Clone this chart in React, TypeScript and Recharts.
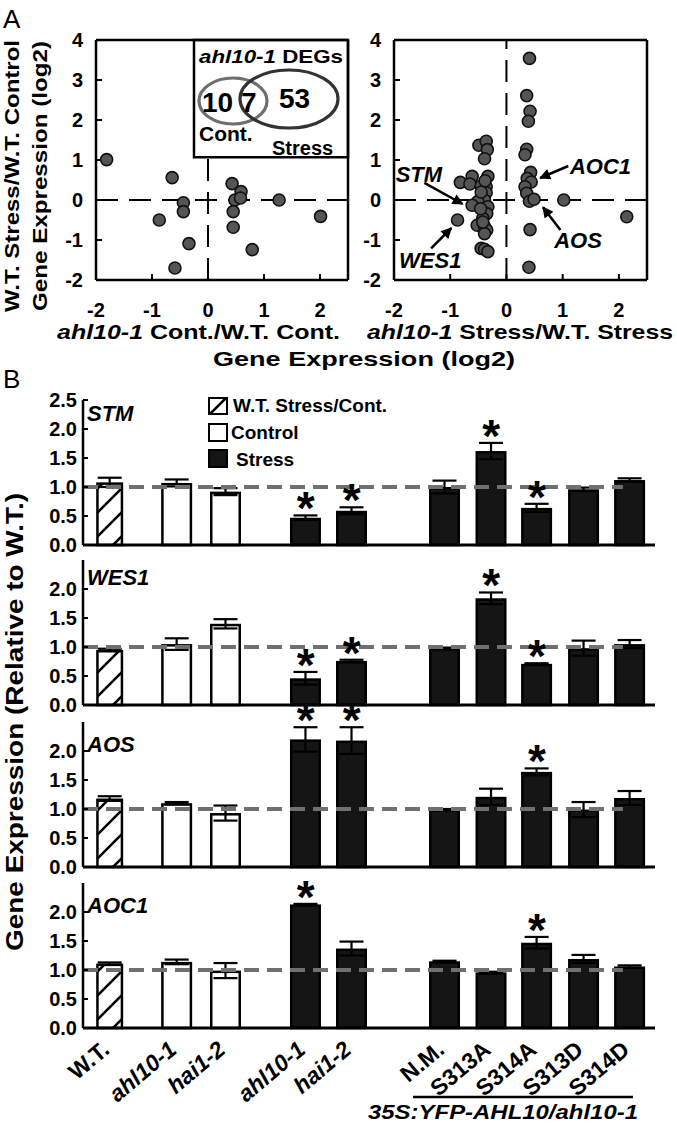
import React from "react";
import {
  ScatterChart,
  Scatter,
  ComposedChart,
  Bar,
  ErrorBar,
  XAxis,
  YAxis,
  ReferenceLine,
  ReferenceArea,
  ReferenceDot,
} from "recharts";

const FONT = "'Liberation Sans', Arial, Helvetica, sans-serif";

// ---- panel A: log2 ratios of the ahl10-1 DEGs ----
const contX = [-1.81, -0.64, -0.44, -0.44, -0.87, -0.34, -0.59, 0.43, 0.59, 0.48, 0.58, 0.45, 0.45, 0.79, 1.27, 2.01];
const contY = [1.01, 0.56, -0.07, -0.29, -0.5, -1.09, -1.7, 0.41, 0.21, 0.0, 0.05, -0.29, -0.68, -1.24, 0.0, -0.41];

const stressX = [
  0.41, 0.36, 0.42, 0.39, 0.36, 0.33, 0.43, 0.37, 0.44, 0.33, 0.36, 0.41, 0.49, 0.42, 0.4, 1.02, 2.14,
  -0.49, -0.36, -0.34, -0.39, -0.33, -0.61, -0.82, -0.65, -0.36, -0.45, -0.36, -0.39, -0.51, -0.61, -0.33,
  -0.35, -0.42, -0.52, -0.39, -0.35, -0.39, -0.87, -0.45, -0.39, -0.33, -0.45, -0.38, -0.46, -0.42,
];
const stressY = [
  3.54, 2.61, 2.22, 1.97, 1.27, 1.13, 0.69, 0.54, 0.45, 0.33, 0.17, -0.03, 0.02, -0.74, -1.68, 0.0, -0.42,
  1.37, 1.47, 1.26, 1.03, 0.59, 0.59, 0.44, 0.4, 0.33, 0.35, 0.18, 0.0, -0.04, -0.13, -0.17,
  -0.34, -0.46, -0.63, -0.67, -0.75, -0.84, -0.5, -1.21, -1.23, -1.29, 0.2, 0.48, -0.22, -0.55,
];

const logTicksX = [-2, -1, 0, 1, 2];
const logTicksY = [-2, -1, 0, 1, 2, 3, 4];
const vennCounts = ["10", "7", "53"];

// ---- panel B: qPCR relative to W.T. ----
const samples = ["W.T.", "ahl10-1", "hai1-2", "ahl10-1", "hai1-2", "N.M.", "S313A", "S314A", "S313D", "S314D"];
const sampleItalic = [false, true, true, true, true, false, false, false, false, false];
const kinds = ["ratio", "control", "control", "stress", "stress", "stress", "stress", "stress", "stress", "stress"];
const xPos = [0, 1.44, 2.49, 4.21, 5.2, 7.2, 8.2, 9.18, 10.19, 11.18];

const genes = ["STM", "WES1", "AOS", "AOC1"];
const stmMean = [1.08, 1.07, 0.92, 0.47, 0.59, 1.0, 1.62, 0.64, 0.96, 1.12];
const stmErr = [0.08, 0.06, 0.06, 0.04, 0.06, 0.11, 0.14, 0.07, 0.03, 0.03];
const stmSig = [0, 0, 0, 1, 1, 0, 1, 1, 0, 0];
const wes1Mean = [0.95, 1.05, 1.4, 0.46, 0.76, 0.98, 1.84, 0.71, 0.98, 1.05];
const wes1Err = [0.02, 0.1, 0.08, 0.11, 0.02, 0.01, 0.1, 0.01, 0.13, 0.07];
const wes1Sig = [0, 0, 0, 1, 1, 0, 1, 1, 0, 0];
const aosMean = [1.18, 1.1, 0.93, 2.2, 2.18, 0.99, 1.21, 1.64, 0.99, 1.19];
const aosErr = [0.04, 0.02, 0.13, 0.21, 0.23, 0.01, 0.14, 0.06, 0.13, 0.12];
const aosSig = [0, 0, 0, 1, 1, 0, 0, 1, 0, 0];
const aoc1Mean = [1.11, 1.14, 0.99, 2.13, 1.37, 1.15, 0.96, 1.47, 1.19, 1.06];
const aoc1Err = [0.02, 0.04, 0.13, 0.01, 0.12, 0.01, 0.01, 0.1, 0.07, 0.02];
const aoc1Sig = [0, 0, 0, 1, 0, 0, 0, 1, 0, 0];

const geneMeans = [stmMean, wes1Mean, aosMean, aoc1Mean];
const geneErrs = [stmErr, wes1Err, aosErr, aoc1Err];
const geneSigs = [stmSig, wes1Sig, aosSig, aoc1Sig];
const fullTicks = [0, 0.5, 1, 1.5, 2, 2.5];
const shortTicks = [0, 0.5, 1, 1.5, 2];

const plotTops = [400, 560, 722, 883];
const geneLabelY = [421, 585, 752, 913];
const TOP_PAD = 30;

const AXIS = { stroke: "#000", strokeWidth: 2.5 };
const TICKLINE = { stroke: "#000", strokeWidth: 2 };
const tickFont = { fontSize: 20, fontWeight: 700, fill: "#000", fontFamily: FONT };

const renderDot = (p: any) => (
  <circle cx={p.cx} cy={p.cy} r={6} fill="#555" stroke="#111" strokeWidth={1.6} />
);

const arrowShape = (p: any) => (
  <line x1={p.x1} y1={p.y1} x2={p.x2} y2={p.y2} stroke="#000" strokeWidth={2.5} markerEnd="url(#arrowHead)" />
);

const labelShape = (txt: string) => (p: any) => (
  <text x={p.cx} y={p.cy} fontSize={22} fontWeight={700} fontStyle="italic" fontFamily={FONT} fill="#000">
    {txt}
  </text>
);

function LogScatter({
  xs,
  ys,
  width,
  left,
  right,
  withBox,
  children,
}: {
  xs: number[];
  ys: number[];
  width: number;
  left: number;
  right: number;
  withBox?: boolean;
  children?: React.ReactNode;
}) {
  const pts = xs.map((x, i) => ({ x, y: ys[i] }));
  return (
    <ScatterChart width={width} height={340} margin={{ top: 40, right, bottom: 40, left }}>
      <defs>
        <marker id="arrowHead" viewBox="0 0 10 10" refX="9" refY="5" markerWidth="13" markerHeight="11" markerUnits="userSpaceOnUse" orient="auto">
          <path d="M0,0 L10,5 L0,10 z" fill="#000" />
        </marker>
      </defs>
      <XAxis type="number" dataKey="x" domain={[-2, 2.5]} ticks={logTicksX} allowDataOverflow interval={0}
        height={20} tickSize={-6} tickMargin={29} axisLine={AXIS} tickLine={TICKLINE} tick={tickFont} />
      <XAxis xAxisId="top" orientation="top" mirror type="number" domain={[-2, 2.5]} ticks={logTicksX}
        allowDataOverflow interval={0} tick={false} tickSize={6} axisLine={AXIS} tickLine={TICKLINE} />
      <YAxis type="number" dataKey="y" domain={[-2, 4]} ticks={logTicksY} allowDataOverflow interval={0}
        width={40} tickSize={-6} tickMargin={19} axisLine={AXIS} tickLine={TICKLINE} tick={tickFont} />
      <YAxis yAxisId="right" orientation="right" mirror type="number" domain={[-2, 4]} ticks={logTicksY}
        allowDataOverflow interval={0} tick={false} tickSize={6} axisLine={AXIS} tickLine={TICKLINE} />
      <ReferenceLine y={0} stroke="#000" strokeWidth={2} strokeDasharray="22 11" />
      <ReferenceLine segment={[{ x: 0, y: -2 }, { x: 0, y: withBox ? 1.07 : 4 }]} stroke="#000" strokeWidth={2} strokeDasharray="22 11" />
      {withBox && (
        <ReferenceArea x1={-0.25} x2={2.5} y1={1.07} y2={4} fill="#fff" fillOpacity={1} stroke="#000" strokeWidth={2.5} ifOverflow="visible" />
      )}
      <Scatter data={pts} shape={renderDot} isAnimationActive={false} />
      {children}
    </ScatterChart>
  );
}

function BarShape(props: any) {
  const { x, y, width, height, payload, hatchId } = props;
  if (!width || height == null || height <= 0) return null;
  const kind = payload.kind;
  const inset = kind === "ratio" ? 2 : 0;
  const fill = kind === "ratio" ? `url(#${hatchId})` : kind === "control" ? "#fff" : "#151515";
  return (
    <rect x={x + inset + 1.25} y={y + 1.25} width={width - 2 * inset - 2.5} height={Math.max(height - 1.25, 0)}
      fill={fill} stroke="#000" strokeWidth={2.5} />
  );
}

const starShape = (p: any) => (
  <text x={p.cx} y={p.cy + 9} textAnchor="middle" fontSize={46} fontWeight={700} fontFamily={FONT} fill="#000">
    *
  </text>
);

function SampleTick(props: any) {
  const { x, y, payload } = props;
  const i = xPos.indexOf(payload.value);
  if (i < 0) return null;
  return (
    <g transform={`translate(${x + 1},${y + 24})`}>
      <text transform="rotate(-40)" x={0} y={0} textAnchor="end" fontSize={23} fontWeight={700}
        fontStyle={sampleItalic[i] ? "italic" : "normal"} fontFamily={FONT} fill="#000">
        {samples[i]}
      </text>
    </g>
  );
}

function GenePanel({ idx }: { idx: number }) {
  const last = idx === genes.length - 1;
  const hatchId = `hatch-${idx}`;
  const rows = samples.map((s, i) => ({
    name: s,
    pos: xPos[i],
    kind: kinds[i],
    mean: geneMeans[idx][i],
    err: geneErrs[idx][i],
  }));
  const stars = rows
    .filter((r, i) => geneSigs[idx][i])
    .map((r) => ({ pos: r.pos, top: r.mean + r.err }));
  return (
    <ComposedChart width={677} height={(last ? 227 : 157) + TOP_PAD} data={rows}
      margin={{ top: TOP_PAD, right: 22, bottom: last ? 70 : 0, left: 0 }}>
      <defs>
        <pattern id={hatchId} patternUnits="userSpaceOnUse" width={24} height={24}>
          <rect width={24} height={24} fill="#fff" />
          <path d="M-6,6 L6,-6 M0,24 L24,0 M18,30 L30,18" stroke="#000" strokeWidth={2.6} />
        </pattern>
      </defs>
      <XAxis type="number" dataKey="pos" domain={[-0.58, 11.72]} ticks={xPos} interval={0}
        height={12} tickLine={false} tickSize={0} tickMargin={0}
        axisLine={{ stroke: "#000", strokeWidth: 3 }} tick={last ? <SampleTick /> : false} />
      <YAxis type="number" domain={[0, 2.5]} ticks={idx === 0 ? fullTicks : shortTicks} interval={0}
        width={83} tickSize={-5} tickMargin={11} axisLine={AXIS} tickLine={TICKLINE} tick={tickFont}
        tickFormatter={(v: number) => v.toFixed(1)} />
      <Bar dataKey="mean" barSize={31} isAnimationActive={false} shape={(p: any) => <BarShape {...p} hatchId={hatchId} />}>
        <ErrorBar dataKey="err" width={12} strokeWidth={2.2} stroke="#000" direction="y" />
      </Bar>
      <ReferenceLine segment={[{ x: -0.58, y: 1 }, { x: 11.03, y: 1 }]} stroke="#707070" strokeWidth={4} strokeDasharray="15 8" />
      <Scatter data={stars} dataKey="top" shape={starShape} isAnimationActive={false} />
    </ComposedChart>
  );
}

export default function App() {
  const boldText = { fontWeight: 700, fontFamily: FONT, fill: "#000" } as const;
  return (
    <div style={{ position: "absolute", left: 0, top: 0, width: 677, height: 1124, background: "#fff", fontFamily: FONT }}>
      <div style={{ position: "absolute", left: 0, top: 0 }}>
        <LogScatter xs={contX} ys={contY} width={360} left={56} right={12} withBox />
      </div>
      <div style={{ position: "absolute", left: 340, top: 0 }}>
        <LogScatter xs={stressX} ys={stressY} width={337} left={14} right={30}>
          <ReferenceLine segment={[{ x: -1.46, y: 0.43 }, { x: -0.78, y: -0.1 }]} shape={arrowShape} />
          <ReferenceLine segment={[{ x: -1.34, y: -1.21 }, { x: -0.98, y: -0.7 }]} shape={arrowShape} />
          <ReferenceLine segment={[{ x: 1.1, y: 0.85 }, { x: 0.6, y: 0.55 }]} shape={arrowShape} />
          <ReferenceLine segment={[{ x: 0.96, y: -0.75 }, { x: 0.65, y: -0.18 }]} shape={arrowShape} />
          <ReferenceDot x={-1.97} y={0.45} r={1} shape={labelShape("STM")} ifOverflow="visible" />
          <ReferenceDot x={-1.91} y={-1.71} r={1} shape={labelShape("WES1")} ifOverflow="visible" />
          <ReferenceDot x={1.13} y={0.65} r={1} shape={labelShape("AOC1")} ifOverflow="visible" />
          <ReferenceDot x={0.85} y={-1.21} r={1} shape={labelShape("AOS")} ifOverflow="visible" />
        </LogScatter>
      </div>

      {genes.map((g, i) => (
        <div key={g} style={{ position: "absolute", left: 0, top: plotTops[i] - TOP_PAD }}>
          <GenePanel idx={i} />
        </div>
      ))}

      <svg width={677} height={1124} style={{ position: "absolute", left: 0, top: 0, pointerEvents: "none" }}>
        {/* panel A */}
        <text x={3} y={28} fontSize={26} fontFamily={FONT}>A</text>
        <text transform="translate(19,176) rotate(-90)" textAnchor="middle" fontSize={21} {...boldText}
          textLength={272} lengthAdjust="spacingAndGlyphs">W.T. Stress/W.T. Control</text>
        <text transform="translate(47,176) rotate(-90)" textAnchor="middle" fontSize={21} {...boldText}
          textLength={270} lengthAdjust="spacingAndGlyphs">Gene Expression (log2)</text>
        <text x={57} y={339} fontSize={21} {...boldText} textLength={283} lengthAdjust="spacingAndGlyphs">
          <tspan fontStyle="italic">ahl10-1</tspan> Cont./W.T. Cont.
        </text>
        <text x={367} y={339} fontSize={21} {...boldText} textLength={306} lengthAdjust="spacingAndGlyphs">
          <tspan fontStyle="italic">ahl10-1</tspan> Stress/W.T. Stress
        </text>
        <text x={213} y={366} fontSize={21} {...boldText} textLength={302} lengthAdjust="spacingAndGlyphs">
          Gene Expression (log2)
        </text>

        {/* Venn inset */}
        <text x={199} y={63} fontSize={19} {...boldText} textLength={144} lengthAdjust="spacingAndGlyphs">
          <tspan fontStyle="italic">ahl10-1</tspan> DEGs
        </text>
        <ellipse cx={233} cy={101} rx={34} ry={23} fill="none" stroke="#6e6e6e" strokeWidth={3.2} />
        <ellipse cx={289} cy={99} rx={49} ry={29} fill="none" stroke="#333" strokeWidth={3.2} />
        <text x={202} y={112} fontSize={28} {...boldText}>{vennCounts[0]}</text>
        <text x={241} y={112} fontSize={28} {...boldText}>{vennCounts[1]}</text>
        <text x={279} y={108} fontSize={28} {...boldText}>{vennCounts[2]}</text>
        <text x={199} y={141} fontSize={21} {...boldText}>Cont.</text>
        <text x={272} y={155} fontSize={20} {...boldText}>Stress</text>

        {/* panel B */}
        <text x={3} y={388} fontSize={26} fontFamily={FONT}>B</text>
        <text transform="translate(23,722) rotate(-90)" textAnchor="middle" fontSize={24} {...boldText}
          textLength={458} lengthAdjust="spacingAndGlyphs">Gene Expression (Relative to W.T.)</text>
        {genes.map((g, i) => (
          <text key={g} x={87} y={geneLabelY[i]} fontSize={22} fontStyle="italic" {...boldText}>{g}</text>
        ))}

        <rect x={209} y={398} width={18} height={16} fill="url(#hatch-0)" stroke="#000" strokeWidth={2} />
        <rect x={209} y={424} width={18} height={17} fill="#fff" stroke="#000" strokeWidth={2} />
        <rect x={209} y={450} width={18} height={17} fill="#151515" stroke="#000" strokeWidth={2} />
        <text x={233} y={412} fontSize={19} {...boldText}>W.T. Stress/Cont.</text>
        <text x={231} y={439} fontSize={19} {...boldText}>Control</text>
        <text x={236} y={466} fontSize={19} {...boldText}>Stress</text>

        <line x1={413} y1={1097} x2={633} y2={1097} stroke="#000" strokeWidth={2.5} />
        <text x={503} y={1119} textAnchor="middle" fontSize={21} fontStyle="italic" {...boldText}
          textLength={270} lengthAdjust="spacingAndGlyphs">35S:YFP-AHL10/ahl10-1</text>
      </svg>
    </div>
  );
}
